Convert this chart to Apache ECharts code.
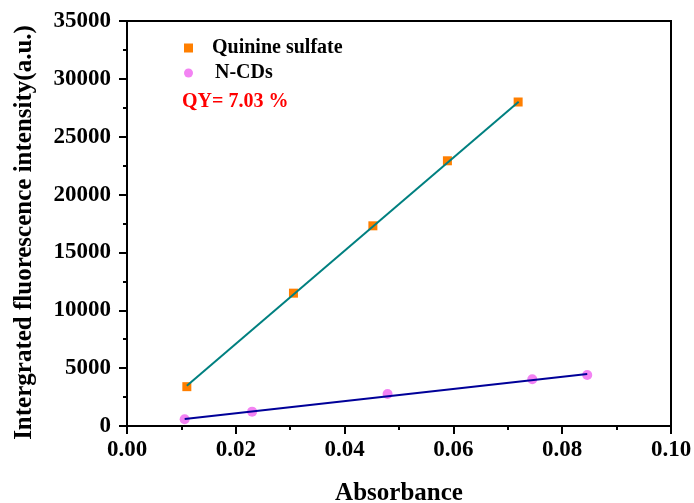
<!DOCTYPE html>
<html>
<head>
<meta charset="utf-8">
<script src="https://cdn.jsdelivr.net/npm/echarts@6/dist/echarts.min.js"></script>
<style>
  html, body { margin: 0; padding: 0; background: #fff; }
  #chart { width: 694px; height: 503px; }
</style>
</head>
<body>
<div id="chart"></div>
<script>
// Absorbance vs integrated fluorescence intensity
const quinineAbs = [0.0110, 0.0306, 0.0452, 0.0589, 0.0719];
const quinineInt = [3400, 11480, 17300, 22920, 28000];
const ncdAbs = [0.0106, 0.0230, 0.0479, 0.0745, 0.0846];
const ncdInt = [580, 1240, 2770, 4040, 4410];

// Linear fit lines (end points)
const quinineFitAbs = [0.0110, 0.0720];
const quinineFitInt = [3480, 28020];
const ncdFitAbs = [0.0106, 0.0846];
const ncdFitInt = [600, 4490];

const xTicks = [0.00, 0.02, 0.04, 0.06, 0.08, 0.10];
const yTicks = [0, 5000, 10000, 15000, 20000, 25000, 30000, 35000];

const seriesNames = ['Quinine sulfate', 'N-CDs'];
const qyText = 'QY= 7.03 %';

const FONT = '"Liberation Serif", "Times New Roman", serif';
const zip = (a, b) => a.map((v, i) => [v, b[i]]);

const chart = echarts.init(document.getElementById('chart'), null, { renderer: 'canvas' });

const axisCommon = {
  axisLine: { show: true, lineStyle: { color: '#000', width: 2 } },
  axisTick: { show: true, inside: false, length: 8, lineStyle: { color: '#000', width: 2 } },
  minorTick: { show: true, splitNumber: 2, length: 4, lineStyle: { color: '#000', width: 2 } },
  splitLine: { show: false },
  axisLabel: { color: '#000', fontFamily: FONT, fontWeight: 'bold', fontSize: 23 },
  nameTextStyle: { color: '#000', fontFamily: FONT, fontWeight: 'bold', fontSize: 25 }
};

chart.setOption({
  animation: false,
  backgroundColor: '#fff',
  title: {
    text: qyText,
    left: 182,
    top: 92,
    padding: 0,
    textStyle: { color: '#ff0000', fontFamily: FONT, fontWeight: 'bold', fontSize: 20 }
  },
  legend: [
    {
      data: [seriesNames[0]],
      left: 184, top: 38, padding: 0,
      itemWidth: 9, itemHeight: 9,
      textStyle: { color: '#000', fontFamily: FONT, fontWeight: 'bold', fontSize: 20, padding: [0, 0, 0, 14] }
    },
    {
      data: [seriesNames[1]],
      left: 184, top: 63, padding: 0,
      itemWidth: 9, itemHeight: 9,
      textStyle: { color: '#000', fontFamily: FONT, fontWeight: 'bold', fontSize: 20, padding: [0, 0, 0, 17] }
    }
  ],
  grid: {
    left: 127, right: 23, top: 21, bottom: 77,
    outerBoundsMode: 'none',
    containLabel: false,
    show: true, borderColor: '#000', borderWidth: 2, backgroundColor: 'transparent'
  },
  xAxis: Object.assign({}, axisCommon, {
    type: 'value',
    min: xTicks[0], max: xTicks[xTicks.length - 1], interval: 0.02,
    name: 'Absorbance', nameLocation: 'middle', nameGap: 55,
    axisLabel: Object.assign({}, axisCommon.axisLabel, {
      margin: 13,
      formatter: v => v.toFixed(2)
    })
  }),
  yAxis: Object.assign({}, axisCommon, {
    type: 'value',
    min: yTicks[0], max: yTicks[yTicks.length - 1], interval: 5000,
    name: 'Intergrated fluorescence intensity(a.u.)', nameLocation: 'middle', nameGap: 90,
    nameTextStyle: Object.assign({}, axisCommon.nameTextStyle, { padding: [0, 18, 0, 0] }),
    axisLabel: Object.assign({}, axisCommon.axisLabel, {
      margin: 16,
      formatter: v => String(v)
    })
  }),
  series: [
    {
      name: seriesNames[0], type: 'scatter', symbol: 'rect', symbolSize: 9,
      itemStyle: { color: '#ff7f00', opacity: 1 }, z: 2,
      data: zip(quinineAbs, quinineInt)
    },
    {
      name: seriesNames[1], type: 'scatter', symbol: 'circle', symbolSize: 10,
      itemStyle: { color: '#f383f3', opacity: 1 }, z: 2,
      data: zip(ncdAbs, ncdInt)
    },
    {
      name: 'Quinine fit', type: 'line', showSymbol: false, symbol: 'none', z: 3,
      lineStyle: { color: '#008080', width: 2 },
      data: zip(quinineFitAbs, quinineFitInt)
    },
    {
      name: 'N-CDs fit', type: 'line', showSymbol: false, symbol: 'none', z: 3,
      lineStyle: { color: '#000099', width: 2 },
      data: zip(ncdFitAbs, ncdFitInt)
    }
  ]
});
</script>
</body>
</html>
